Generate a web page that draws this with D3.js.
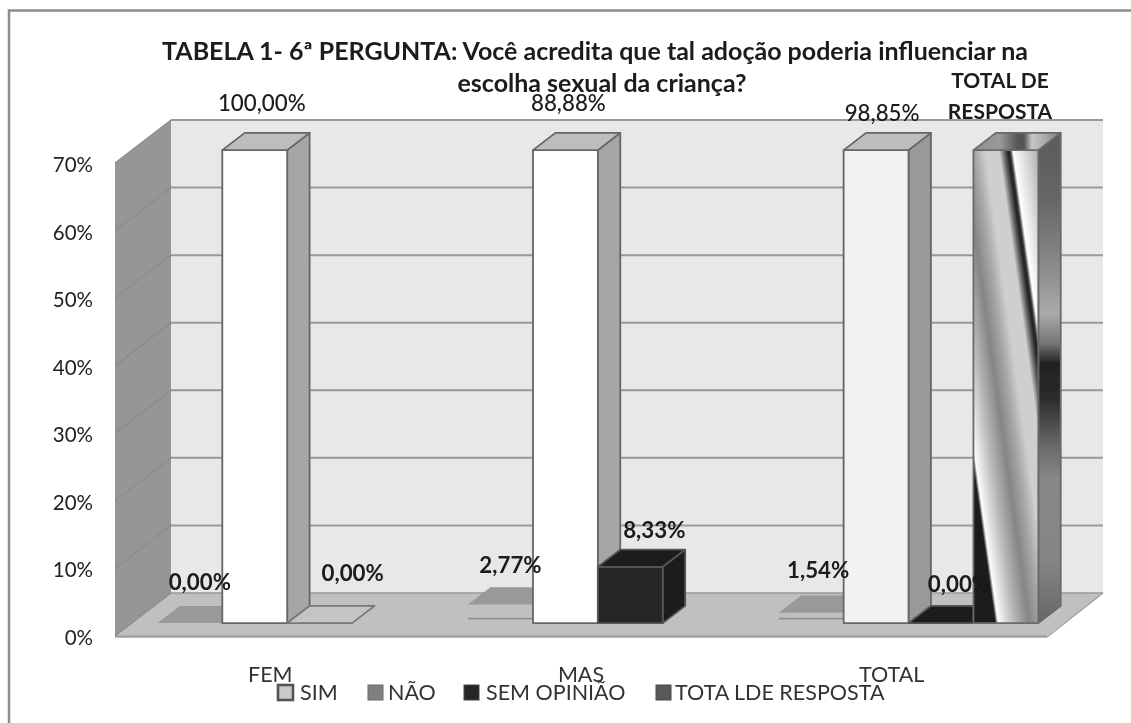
<!DOCTYPE html>
<html><head><meta charset="utf-8">
<script src="https://cdn.jsdelivr.net/npm/d3@7"></script>
<style>html,body{margin:0;padding:0;background:#fff}svg{display:block}text{font-family:Lato,"Open Sans",sans-serif}</style>
</head><body><div id="chart"></div>
<script>
const categories = ["FEM","MAS","TOTAL"];
const seriesOrder = ["NÃO","SIM","SEM OPINIÃO","TOTA LDE RESPOSTA"];
const tickValues = [0,10,20,30,40,50,60,70];
const simValues = [100,88.88,98.85];
const naoValues = [0,2.77,1.54];
const semValues = [0,8.33,0];
const totalValues = [null,null,100];
const titleLines = ["TABELA 1- 6ª PERGUNTA: Você acredita que tal adoção poderia influenciar na","escolha sexual da criança?"];
const legendNames = ["SIM","NÃO","SEM OPINIÃO","TOTA LDE RESPOSTA"];

const W=1131,H=723;
const svg=d3.select("#chart").append("svg").attr("width",W).attr("height",H);
const defs=svg.append("defs");
const blur=defs.append("filter").attr("id","soft").attr("x",0).attr("y",0).attr("width",1).attr("height",1);
blur.append("feGaussianBlur").attr("stdDeviation",0.55);
const root=svg.append("g").attr("filter","url(#soft)");
root.append("rect").attr("width",W).attr("height",H).attr("fill","#fff");

// Frame (left and top only are visible)
root.append("path").attr("d","M9,723V10.5H1131").attr("fill","none").attr("stroke","#8c8c8c").attr("stroke-width",2.5);

// 3D projection
const DX=56,DY=43;
const y=d3.scaleLinear().domain([0,70]).range([636,163]).clamp(true);
const x0=d3.scaleBand().domain(categories).range([115,1047]);
const x1=d3.scaleBand().domain(seriesOrder).range([25.6,285.2]);
const P=(px,val,d)=>[px+d*DX,y(val)-d*DY];
const poly=pts=>"M"+pts.map(p=>p.join(",")).join("L")+"Z";

const xL=115,xR=1047;
// walls
root.append("path").attr("d",poly([P(xL,0,1),P(xR,0,1),P(xR,70,1),P(xL,70,1)])).attr("fill","#e8e8e8");
root.append("path").attr("d",poly([P(xL,0,0),P(xL,0,1),P(xL,70,1),P(xL,70,0)])).attr("fill","#969696");
root.append("path").attr("d",poly([P(xL,0,0),P(xR,0,0),P(xR,0,1),P(xL,0,1)])).attr("fill","#c0c0c0");
root.append("path").attr("d",`M${xL},${y(0)+0.5}H${xR}`).attr("stroke","#a0a0a0").attr("stroke-width",2.5);
root.append("path").attr("d",`M${xR},${y(0)+1}L${xR+DX},${y(0)-DY}`).attr("stroke","#a0a0a0").attr("stroke-width",1.5);
tickValues.forEach(t=>{
  const a=P(xL,t,0),b=P(xL,t,1),c=P(xR,t,1);
  root.append("path").attr("d",`M${a}L${b}`).attr("fill","none").attr("stroke","#8a8a8a").attr("stroke-width",1.1);
  root.append("path").attr("d",`M${b}L${c}`).attr("fill","none").attr("stroke","#999").attr("stroke-width",t===0?1.5:2);
});
// y axis via d3 axis, offset left of wall
const yAxis=d3.axisLeft(y).tickValues(tickValues).tickFormat(d=>d+"%").tickSize(0).tickPadding(0);
const ag=root.append("g").attr("transform","translate(93,2)").call(yAxis);
ag.select(".domain").remove();
ag.selectAll("text").attr("font-size",20.5).attr("fill","#222").style("font-family","Lato");

// gradients for the last series
const T0=150,SL=0.14;
const tGrad=defs.append("linearGradient").attr("id","frontG").attr("gradientUnits","userSpaceOnUse");
const n=1/(1+SL*SL);
const tA=925,tB=1042;
tGrad.attr("x1",tA).attr("y1",T0).attr("x2",tA+(tB-tA)*n).attr("y2",T0-(tB-tA)*n*SL);
[[925,"#1a1a1a"],[929,"#1a1a1a"],[932,"#fdfdfd"],[940,"#d8d8d8"],[950,"#b0b0b0"],[963,"#858585"],[975,"#a8a8a8"],[985,"#cfcfcf"],[999,"#cfcfcf"],[1004,"#666"],[1008,"#222"],[1010,"#333"],[1013,"#fff"],[1024,"#dcdcdc"],[1038,"#b0b0b0"],[1042,"#999"]]
 .forEach(s=>tGrad.append("stop").attr("offset",(s[0]-tA)/(tB-tA)).attr("stop-color",s[1]));
const sGrad=defs.append("linearGradient").attr("id","sideG").attr("gradientUnits","userSpaceOnUse").attr("x1",0).attr("y1",133).attr("x2",0).attr("y2",623);
[[133,"#5a5a5a"],[200,"#666"],[263,"#888"],[313,"#aaa"],[343,"#777"],[363,"#222"],[397,"#2a2a2a"],[447,"#6a6a6a"],[480,"#888"],[560,"#858585"],[623,"#666"]]
 .forEach(s=>sGrad.append("stop").attr("offset",(s[0]-133)/490).attr("stop-color",s[1]));
const topG=defs.append("linearGradient").attr("id","topG").attr("gradientUnits","userSpaceOnUse").attr("x1",974).attr("y1",0).attr("x2",1062).attr("y2",0);
[[974,"#8f8f8f"],[1000,"#999"],[1018,"#555"],[1024,"#555"],[1032,"#c8c8c8"],[1045,"#aaa"],[1062,"#777"]]
 .forEach(s=>topG.append("stop").attr("offset",(s[0]-974)/88).attr("stop-color",s[1]));

// series styles
const styles={
 "SIM":{front:i=>i===2?"#f2f2f2":"#ffffff",top:()=>"#bdbdbd",side:i=>i===2?"#999":"#a6a6a6",stroke:"#666"},
 "NÃO":{front:()=>"#c0c0c0",top:()=>"#999",side:()=>"#999",stroke:null},
 "SEM OPINIÃO":{front:()=>"#262626",top:i=>i===0?"#c4c4c4":"#1e1e1e",side:()=>"#1a1a1a",stroke:i=>i===0?"#777":"#555"},
 "TOTA LDE RESPOSTA":{front:()=>"url(#frontG)",top:()=>"url(#topG)",side:()=>"url(#sideG)",stroke:"#6a6a6a"}
};
const valuesBy={"SIM":simValues,"NÃO":naoValues,"SEM OPINIÃO":semValues,"TOTA LDE RESPOSTA":totalValues};
const D0=0.3,D1=0.7;
const bars=[];
categories.forEach((c,i)=>seriesOrder.forEach(s=>{const v=valuesBy[s][i]; if(v!==null) bars.push({c,i,s,v});}));
const g=root.append("g");
bars.forEach(b=>{
  const st=styles[b.s];
  const l=x0(b.c)+x1(b.s), r=l+x1.bandwidth();
  const stk=typeof st.stroke==="function"?st.stroke(b.i):st.stroke;
  const e=g.append("g").attr("stroke",stk||"none").attr("stroke-width",1.8).attr("stroke-linejoin","round");
  if(b.v>0){
    e.append("path").attr("d",poly([P(r,0,D0),P(r,0,D1),P(r,b.v,D1),P(r,b.v,D0)])).attr("fill",st.side(b.i));
    e.append("path").attr("d",poly([P(l,0,D0),P(r,0,D0),P(r,b.v,D0),P(l,b.v,D0)])).attr("fill",st.front(b.i));
  }
  e.append("path").attr("d",poly([P(l,b.v,D0),P(r,b.v,D0),P(r,b.v,D1),P(l,b.v,D1)])).attr("fill",st.top(b.i));
  if(b.s==="NÃO"&&b.v>0){
    const a=P(l,0,D0),c=P(r,0,D0);
    g.append("path").attr("d",`M${a[0]},${a[1]-4.5}H${c[0]}`).attr("stroke","#8f8f8f").attr("stroke-width",1.6);
  }
});

// data labels: anchored on each bar's top with a separate offset table
const labelOffsets={
 "SIM|FEM":[7,-47],"SIM|MAS":[3,-47],"SIM|TOTAL":[6,-37],
 "NÃO|FEM":[10,-41],"NÃO|MAS":[10,-39],"NÃO|TOTAL":[7,-42],
 "SEM OPINIÃO|FEM":[33,-50],"SEM OPINIÃO|MAS":[24,-37],"SEM OPINIÃO|TOTAL":[18,-39]
};
const fmt=v=>v.toFixed(2).replace(".",",")+"%";
bars.filter(b=>b.s!=="TOTA LDE RESPOSTA").forEach(b=>{
  const l=x0(b.c)+x1(b.s), cx=l+x1.bandwidth()/2;
  const o=labelOffsets[b.s+"|"+b.c];
  const p=P(cx,b.v,D0);
  root.append("text").attr("x",p[0]+o[0]).attr("y",p[1]+o[1]).attr("dy","0.35em").attr("text-anchor","middle")
    .attr("font-size",22.3).attr("font-weight",b.s==="SIM"?500:700).attr("fill","#1a1a1a").text(fmt(b.v));
});
// series-name label above the last bar
root.append("text").attr("text-anchor","middle").attr("font-size",21).attr("font-weight",700).attr("fill","#1a1a1a")
  .selectAll("tspan").data(["TOTAL DE","RESPOSTA"]).join("tspan").attr("x",1000).attr("y",(d,i)=>88+i*30.5).text(d=>d);

// category labels
root.selectAll("text.cat").data(categories).join("text").attr("class","cat")
  .attr("x",d=>x0(d)+x0.bandwidth()/2).attr("y",682).attr("text-anchor","middle")
  .attr("font-size",21.5).attr("fill","#333").text(d=>d);

// title
root.selectAll("text.title").data(titleLines).join("text").attr("class","title")
  .attr("x",(d,i)=>i?602:595).attr("y",(d,i)=>60+i*32).attr("text-anchor","middle")
  .attr("font-size",25).attr("font-weight",700).attr("fill","#1a1a1a").text(d=>d);

// legend
const legendStyle=[{fill:"#cacaca",stroke:"#555",sw:2.6},{fill:"#808080",stroke:"#6a6a6a",sw:1},{fill:"#262626",stroke:"#444",sw:1},{fill:"#595959",stroke:"#4a4a4a",sw:1}];
const legendX=[278,368,464,656];
const legendG=root.selectAll("g.leg").data(legendNames).join("g").attr("class","leg").attr("transform",(d,i)=>`translate(${legendX[i]},685)`);
legendG.append("rect").attr("width",15).attr("height",15).attr("fill",(d,i)=>legendStyle[i].fill).attr("stroke",(d,i)=>legendStyle[i].stroke).attr("stroke-width",(d,i)=>legendStyle[i].sw);
legendG.append("text").attr("x",(d,i)=>i===1?20:i===3?19:22).attr("y",15).attr("font-size",21.5).attr("fill","#333").text(d=>d);
</script></body></html>
